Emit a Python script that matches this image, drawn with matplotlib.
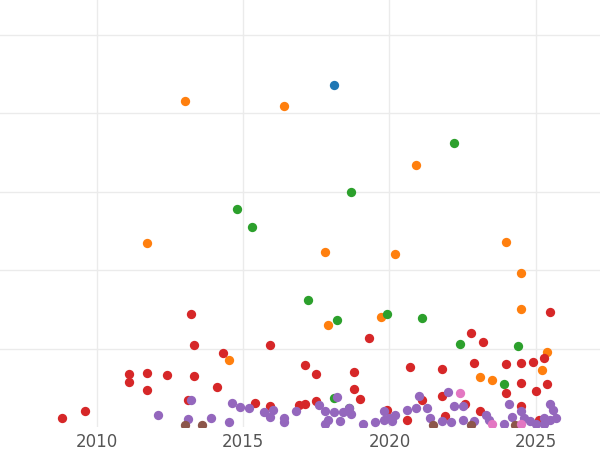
import matplotlib
matplotlib.use("Agg")
import matplotlib.pyplot as plt

blue_x = [2018.1]
blue_y = [4.36]
orange_x = [2013.0, 2016.4, 2011.7, 2017.8, 2020.2, 2020.9, 2024.0, 2024.5, 2024.5, 2017.9,
            2019.7, 2014.5, 2023.1, 2023.5, 2025.2, 2025.4]
orange_y = [4.15, 4.09, 2.34, 2.23, 2.20, 3.34, 2.36, 1.96, 1.50, 1.30,
            1.40, 0.85, 0.64, 0.60, 0.73, 0.96]
green_x = [2022.2, 2018.7, 2014.8, 2015.3, 2017.2, 2018.2, 2019.9, 2021.1, 2022.4, 2024.4,
           2023.9, 2018.1, 2018.6]
green_y = [3.62, 2.99, 2.78, 2.55, 1.62, 1.36, 1.44, 1.39, 1.06, 1.03,
           0.55, 0.37, 0.24]
red_x = [2013.2, 2013.3, 2015.9, 2011.1, 2011.7, 2011.1, 2011.7, 2012.4, 2013.3, 2014.3,
         2014.1, 2008.8, 2009.6, 2013.1, 2015.4, 2015.9, 2016.9, 2017.1, 2017.1, 2017.5,
         2017.5, 2018.8, 2018.8, 2019.0, 2019.3, 2020.7, 2019.9, 2021.1, 2021.8, 2021.8,
         2022.6, 2022.8, 2022.9, 2023.2, 2023.1, 2024.0, 2024.0, 2024.5, 2024.5, 2024.9,
         2025.3, 2025.5, 2025.4, 2025.0, 2024.5, 2021.9, 2025.1, 2020.6]
red_y = [1.44, 1.04, 1.04, 0.68, 0.69, 0.57, 0.47, 0.66, 0.65, 0.94,
         0.51, 0.11, 0.20, 0.34, 0.31, 0.27, 0.28, 0.29, 0.79, 0.68,
         0.33, 0.70, 0.48, 0.36, 1.13, 0.76, 0.22, 0.34, 0.74, 0.39,
         0.29, 1.20, 0.82, 1.08, 0.20, 0.80, 0.43, 0.56, 0.82, 0.83,
         0.88, 1.46, 0.55, 0.46, 0.27, 0.14, 0.09, 0.09]
purple_x = [2012.1, 2013.2, 2013.1, 2013.9, 2014.6, 2014.5, 2014.9, 2015.2, 2015.7, 2016.0,
            2015.9, 2016.4, 2016.4, 2016.8, 2017.6, 2017.8, 2017.9, 2017.8, 2018.2, 2018.1,
            2018.3, 2018.4, 2018.6, 2018.7, 2019.1, 2019.5, 2019.8, 2019.8, 2020.0, 2020.2,
            2020.1, 2020.6, 2020.9, 2021.0, 2021.3, 2021.4, 2021.8, 2022.0, 2022.1, 2022.2,
            2022.5, 2022.5, 2022.9, 2023.3, 2023.4, 2023.9, 2024.1, 2024.2, 2024.5, 2024.6,
            2024.8, 2025.0, 2025.3, 2025.5, 2025.6, 2025.5, 2025.7, 2025.3]
purple_y = [0.15, 0.34, 0.10, 0.11, 0.31, 0.06, 0.25, 0.24, 0.19, 0.22,
            0.13, 0.11, 0.06, 0.20, 0.28, 0.20, 0.09, 0.04, 0.38, 0.19,
            0.08, 0.19, 0.24, 0.17, 0.04, 0.06, 0.09, 0.20, 0.11, 0.15,
            0.08, 0.22, 0.24, 0.39, 0.24, 0.11, 0.08, 0.45, 0.06, 0.27,
            0.27, 0.09, 0.08, 0.15, 0.09, 0.04, 0.29, 0.13, 0.20, 0.11,
            0.08, 0.04, 0.11, 0.29, 0.22, 0.09, 0.11, 0.04]
brown_x = [2013.0, 2013.6, 2021.5, 2022.8, 2024.3]
brown_y = [0.03, 0.03, 0.03, 0.03, 0.03]
pink_x = [2022.4, 2023.5, 2024.5]
pink_y = [0.43, 0.04, 0.04]

groups = [(blue_x, blue_y, "#1f77b4"), (orange_x, orange_y, "#ff7f0e"),
          (green_x, green_y, "#2ca02c"), (red_x, red_y, "#d62728"),
          (purple_x, purple_y, "#9467bd"), (brown_x, brown_y, "#8c564b"),
          (pink_x, pink_y, "#e377c2")]

fig = plt.figure(figsize=(6, 4.5), dpi=100)
ax = fig.add_axes([0, 23 / 450, 1, 427 / 450])
for xs, ys, c in groups:
    ax.scatter(xs, ys, s=45, color=c, zorder=3, clip_on=True, linewidths=0)
ax.set_xlim(2006.68, 2027.2)
ax.set_ylim(0, 5.44)
ax.set_xticks([2010, 2015, 2020, 2025])
ax.set_yticks([1, 2, 3, 4, 5])
ax.set_yticklabels([])
ax.grid(True, color="#ebebeb", linewidth=1)
ax.set_axisbelow(True)
ax.tick_params(length=0, labelsize=12, labelcolor="#555555", pad=4)
for s in ax.spines.values():
    s.set_visible(False)
fig.savefig("out.png")
